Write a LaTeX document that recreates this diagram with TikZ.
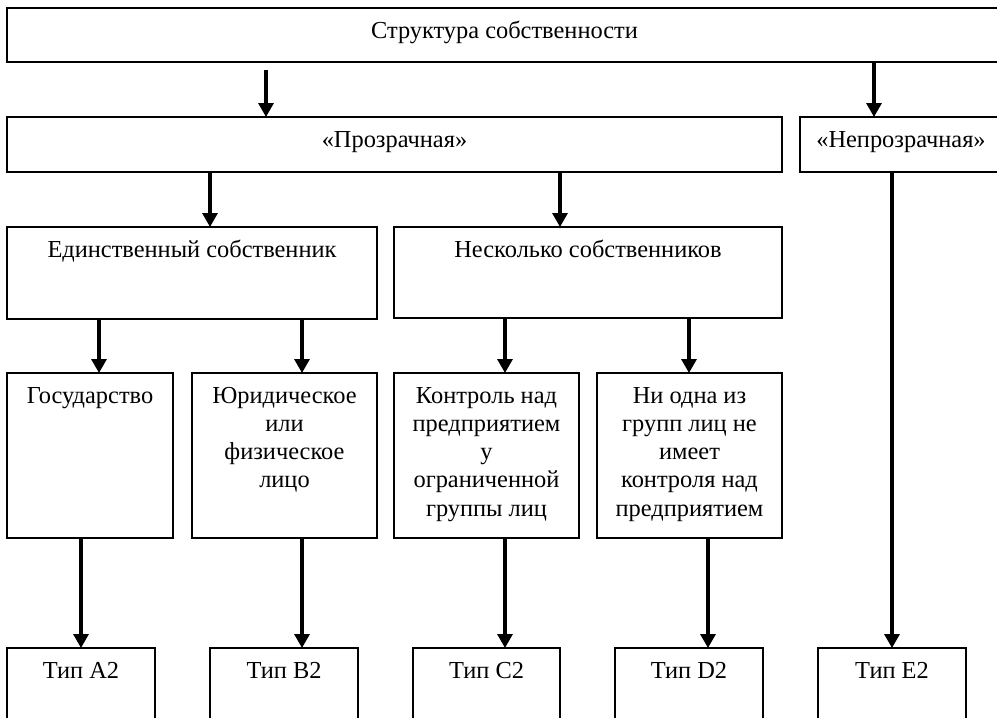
\documentclass[tikz,border=0pt]{standalone}
\usepackage{fontspec}
\setmainfont{Liberation Serif}
\usetikzlibrary{arrows.meta}
\newcommand\boxtxt[3]{\parbox[c][#2pt][t]{#1pt}{\centering\rule{0pt}{30pt}#3}}
\begin{document}
\begin{tikzpicture}[x=1pt,y=1pt,
  box/.style={draw, line width=1.4pt, inner sep=0pt, outer sep=0pt, anchor=north west,
    font=\fontsize{24.4}{28.3}\selectfont},
  arr/.style={line width=3.2pt, -{Triangle[width=15pt,length=14pt]}}]
\useasboundingbox (0,0) rectangle (997,-718);
% level 0
\node[box] (top) at (7,-8) {\boxtxt{995}{54}{Структура собственности}};
% level 1
\node[box] (proz) at (7,-117) {\boxtxt{775}{55}{«Прозрачная»}};
\node[box] (neproz) at (800,-117) {\boxtxt{202}{55}{«Непрозрачная»}};
% level 2
\node[box] (ed) at (7,-227) {\boxtxt{370}{92}{Единственный собственник}};
\node[box] (nesk) at (394,-227) {\boxtxt{388}{91}{Несколько собственников}};
% level 3
\node[box] (gos) at (7,-373) {\boxtxt{166}{165}{Государство}};
\node[box] (yur) at (192,-373) {\boxtxt{185}{165}{Юридическое\\или\\физическое\\лицо}};
\node[box] (kontr) at (394,-373) {\boxtxt{185}{165}{Контроль над\\предприятием\\у\\ограниченной\\группы лиц}};
\node[box] (nione) at (597,-373) {\boxtxt{185}{165}{Ни одна из\\групп лиц не\\имеет\\контроля над\\предприятием}};
% level 4
\node[box] (ta) at (7,-648) {\boxtxt{148}{80}{Тип A2}};
\node[box] (tb) at (210,-648) {\boxtxt{148}{80}{Тип B2}};
\node[box] (tc) at (413,-648) {\boxtxt{147}{80}{Тип C2}};
\node[box] (td) at (615,-648) {\boxtxt{148}{80}{Тип D2}};
\node[box] (te) at (818,-648) {\boxtxt{148}{80}{Тип E2}};
% x positions of connectors
\coordinate (k1) at (266,0);
\coordinate (k2) at (874,0);
\coordinate (k3) at (210,0);
\coordinate (k4) at (560,0);
\coordinate (k5) at (99,0);
\coordinate (k6) at (302,0);
\coordinate (k7) at (505,0);
\coordinate (k8) at (689,0);
\coordinate (k9) at (81,0);
\coordinate (k10) at (708,0);
\coordinate (k11) at (892,0);
% connectors
\draw[arr] ([yshift=-8pt]top.south -| k1) -- (proz.north -| k1);
\draw[arr] (top.south -| k2) -- (neproz.north -| k2);
\draw[arr] (proz.south -| k3) -- (ed.north -| k3);
\draw[arr] (proz.south -| k4) -- (nesk.north -| k4);
\draw[arr] (ed.south -| k5) -- (gos.north -| k5);
\draw[arr] (ed.south -| k6) -- (yur.north -| k6);
\draw[arr] (nesk.south -| k7) -- (kontr.north -| k7);
\draw[arr] (nesk.south -| k8) -- (nione.north -| k8);
\draw[arr] (gos.south -| k9) -- (ta.north -| k9);
\draw[arr] (yur.south -| k6) -- (tb.north -| k6);
\draw[arr] (kontr.south -| k7) -- (tc.north -| k7);
\draw[arr] (nione.south -| k10) -- (td.north -| k10);
\draw[arr] (neproz.south -| k11) -- (te.north -| k11);
\end{tikzpicture}
\end{document}
